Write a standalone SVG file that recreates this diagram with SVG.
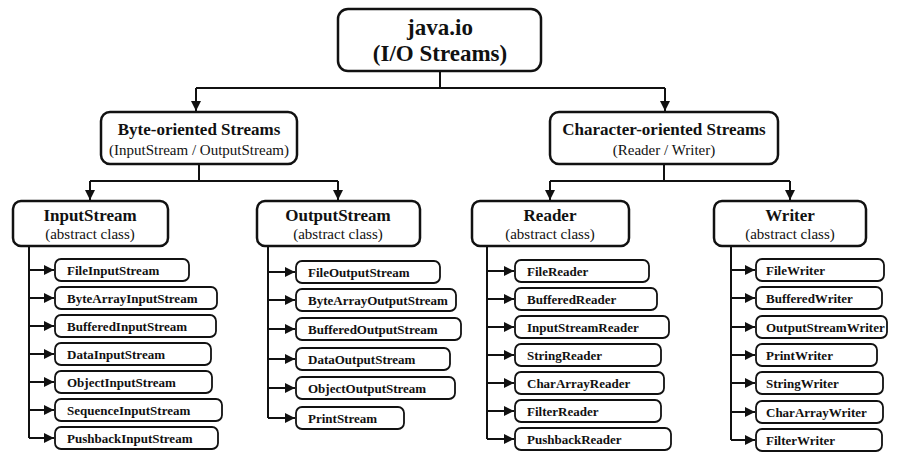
<svg xmlns="http://www.w3.org/2000/svg" width="900" height="460" viewBox="0 0 900 460" font-family="'Liberation Serif', Tinos, 'Times New Roman', serif">
<style>
.b{fill:#fff;stroke:#111;stroke-width:2.5}
.l{fill:#fff;stroke:#111;stroke-width:1.8}
text{font-family:"Liberation Serif","Times New Roman",serif;fill:#111;text-anchor:middle}
.t1{font-size:23px;font-weight:bold}
.t2{font-size:17px;font-weight:bold}
.s2{font-size:15px}
.lf{font-size:13px;font-weight:bold;text-anchor:start}
.c{fill:none;stroke:#111;stroke-width:2}
</style>
<defs><marker id="a" viewBox="0 0 10 10" refX="10" refY="5" markerWidth="10" markerHeight="10" markerUnits="userSpaceOnUse" orient="auto"><path d="M0,0L10,5L0,10z" fill="#111"/></marker></defs>
<rect width="900" height="460" fill="#fff"/>
<g id="connectors" class="c">
<path d="M440,71V88M196,88H665"/>
<path d="M196,88V111" marker-end="url(#a)"/><path d="M665,88V111" marker-end="url(#a)"/>
<path d="M199,164V181M90,181H338"/>
<path d="M90,181V200" marker-end="url(#a)"/><path d="M338,181V200" marker-end="url(#a)"/>
<path d="M664,164V181M550,181H790"/>
<path d="M550,181V200" marker-end="url(#a)"/><path d="M790,181V200" marker-end="url(#a)"/>
<path d="M29,246V438"/>
<path d="M29,270H54" marker-end="url(#a)"/><path d="M29,298H54" marker-end="url(#a)"/><path d="M29,326H54" marker-end="url(#a)"/><path d="M29,354H54" marker-end="url(#a)"/><path d="M29,382H54" marker-end="url(#a)"/><path d="M29,410H54" marker-end="url(#a)"/><path d="M29,438H54" marker-end="url(#a)"/>
<path d="M268,246V418"/>
<path d="M268,272H295" marker-end="url(#a)"/><path d="M268,300H295" marker-end="url(#a)"/><path d="M268,329H295" marker-end="url(#a)"/><path d="M268,359H295" marker-end="url(#a)"/><path d="M268,388H295" marker-end="url(#a)"/><path d="M268,418H295" marker-end="url(#a)"/>
<path d="M487,246V439"/>
<path d="M487,271H514" marker-end="url(#a)"/><path d="M487,299H514" marker-end="url(#a)"/><path d="M487,327H514" marker-end="url(#a)"/><path d="M487,355H514" marker-end="url(#a)"/><path d="M487,383H514" marker-end="url(#a)"/><path d="M487,411H514" marker-end="url(#a)"/><path d="M487,439H514" marker-end="url(#a)"/>
<path d="M731,246V440"/>
<path d="M731,270H755" marker-end="url(#a)"/><path d="M731,298H755" marker-end="url(#a)"/><path d="M731,327H755" marker-end="url(#a)"/><path d="M731,355H755" marker-end="url(#a)"/><path d="M731,383H755" marker-end="url(#a)"/><path d="M731,412H755" marker-end="url(#a)"/><path d="M731,440H755" marker-end="url(#a)"/>
</g>
<g id="root"><rect class="b" x="338" y="9" width="203" height="62" rx="10"/><text class="t1" x="440" y="35">java.io</text><text class="t1" x="440" y="61">(I/O Streams)</text></g>
<g id="byte"><rect class="b" x="101" y="112" width="196" height="52" rx="9"/><text class="t2" x="199" y="135">Byte-oriented Streams</text><text class="s2" x="199" y="155">(InputStream / OutputStream)</text></g>
<g id="char"><rect class="b" x="550" y="112" width="228" height="52" rx="9"/><text class="t2" x="664" y="135">Character-oriented Streams</text><text class="s2" x="664" y="155">(Reader / Writer)</text></g>
<g id="inputstream"><rect class="b" x="13" y="201" width="155" height="45" rx="8"/><text class="t2" x="90" y="221">InputStream</text><text class="s2" x="90" y="239">(abstract class)</text></g>
<g id="outputstream"><rect class="b" x="257" y="201" width="163" height="45" rx="8"/><text class="t2" x="338" y="221">OutputStream</text><text class="s2" x="338" y="239">(abstract class)</text></g>
<g id="reader"><rect class="b" x="472" y="201" width="157" height="45" rx="8"/><text class="t2" x="550" y="221">Reader</text><text class="s2" x="550" y="239">(abstract class)</text></g>
<g id="writer"><rect class="b" x="714" y="201" width="152" height="45" rx="8"/><text class="t2" x="790" y="221">Writer</text><text class="s2" x="790" y="239">(abstract class)</text></g>
<g id="is-leaves">
<g id="FileInputStream"><rect class="l" x="55" y="259" width="134" height="22" rx="6"/><text class="lf" x="67" y="275">FileInputStream</text></g>
<g id="ByteArrayInputStream"><rect class="l" x="55" y="287" width="162" height="22" rx="6"/><text class="lf" x="67" y="303">ByteArrayInputStream</text></g>
<g id="BufferedInputStream"><rect class="l" x="55" y="315" width="161" height="22" rx="6"/><text class="lf" x="67" y="331">BufferedInputStream</text></g>
<g id="DataInputStream"><rect class="l" x="55" y="343" width="156" height="22" rx="6"/><text class="lf" x="67" y="359">DataInputStream</text></g>
<g id="ObjectInputStream"><rect class="l" x="55" y="371" width="157" height="22" rx="6"/><text class="lf" x="67" y="387">ObjectInputStream</text></g>
<g id="SequenceInputStream"><rect class="l" x="55" y="399" width="167" height="22" rx="6"/><text class="lf" x="67" y="415">SequenceInputStream</text></g>
<g id="PushbackInputStream"><rect class="l" x="55" y="427" width="163" height="22" rx="6"/><text class="lf" x="67" y="443">PushbackInputStream</text></g>
</g>
<g id="os-leaves">
<g id="FileOutputStream"><rect class="l" x="296" y="261" width="144" height="22" rx="6"/><text class="lf" x="308" y="277">FileOutputStream</text></g>
<g id="ByteArrayOutputStream"><rect class="l" x="296" y="289" width="160" height="22" rx="6"/><text class="lf" x="308" y="305">ByteArrayOutputStream</text></g>
<g id="BufferedOutputStream"><rect class="l" x="296" y="318" width="165" height="22" rx="6"/><text class="lf" x="308" y="334">BufferedOutputStream</text></g>
<g id="DataOutputStream"><rect class="l" x="296" y="348" width="154" height="22" rx="6"/><text class="lf" x="308" y="364">DataOutputStream</text></g>
<g id="ObjectOutputStream"><rect class="l" x="296" y="377" width="159" height="22" rx="6"/><text class="lf" x="308" y="393">ObjectOutputStream</text></g>
<g id="PrintStream"><rect class="l" x="296" y="407" width="108" height="22" rx="6"/><text class="lf" x="308" y="423">PrintStream</text></g>
</g>
<g id="reader-leaves">
<g id="FileReader"><rect class="l" x="515" y="260" width="134" height="22" rx="6"/><text class="lf" x="527" y="276">FileReader</text></g>
<g id="BufferedReader"><rect class="l" x="515" y="288" width="142" height="22" rx="6"/><text class="lf" x="527" y="304">BufferedReader</text></g>
<g id="InputStreamReader"><rect class="l" x="515" y="316" width="154" height="22" rx="6"/><text class="lf" x="527" y="332">InputStreamReader</text></g>
<g id="StringReader"><rect class="l" x="515" y="344" width="146" height="22" rx="6"/><text class="lf" x="527" y="360">StringReader</text></g>
<g id="CharArrayReader"><rect class="l" x="515" y="372" width="149" height="22" rx="6"/><text class="lf" x="527" y="388">CharArrayReader</text></g>
<g id="FilterReader"><rect class="l" x="515" y="400" width="146" height="22" rx="6"/><text class="lf" x="527" y="416">FilterReader</text></g>
<g id="PushbackReader"><rect class="l" x="515" y="428" width="156" height="22" rx="6"/><text class="lf" x="527" y="444">PushbackReader</text></g>
</g>
<g id="writer-leaves">
<g id="FileWriter"><rect class="l" x="756" y="259" width="128" height="22" rx="6"/><text class="lf" x="766" y="275">FileWriter</text></g>
<g id="BufferedWriter"><rect class="l" x="756" y="287" width="126" height="22" rx="6"/><text class="lf" x="766" y="303">BufferedWriter</text></g>
<g id="OutputStreamWriter"><rect class="l" x="756" y="316" width="131" height="22" rx="6"/><text class="lf" x="766" y="332">OutputStreamWriter</text></g>
<g id="PrintWriter"><rect class="l" x="756" y="344" width="121" height="22" rx="6"/><text class="lf" x="766" y="360">PrintWriter</text></g>
<g id="StringWriter"><rect class="l" x="756" y="372" width="127" height="22" rx="6"/><text class="lf" x="766" y="388">StringWriter</text></g>
<g id="CharArrayWriter"><rect class="l" x="756" y="401" width="127" height="22" rx="6"/><text class="lf" x="766" y="417">CharArrayWriter</text></g>
<g id="FilterWriter"><rect class="l" x="756" y="429" width="126" height="22" rx="6"/><text class="lf" x="766" y="445">FilterWriter</text></g>
</g>
</svg>
